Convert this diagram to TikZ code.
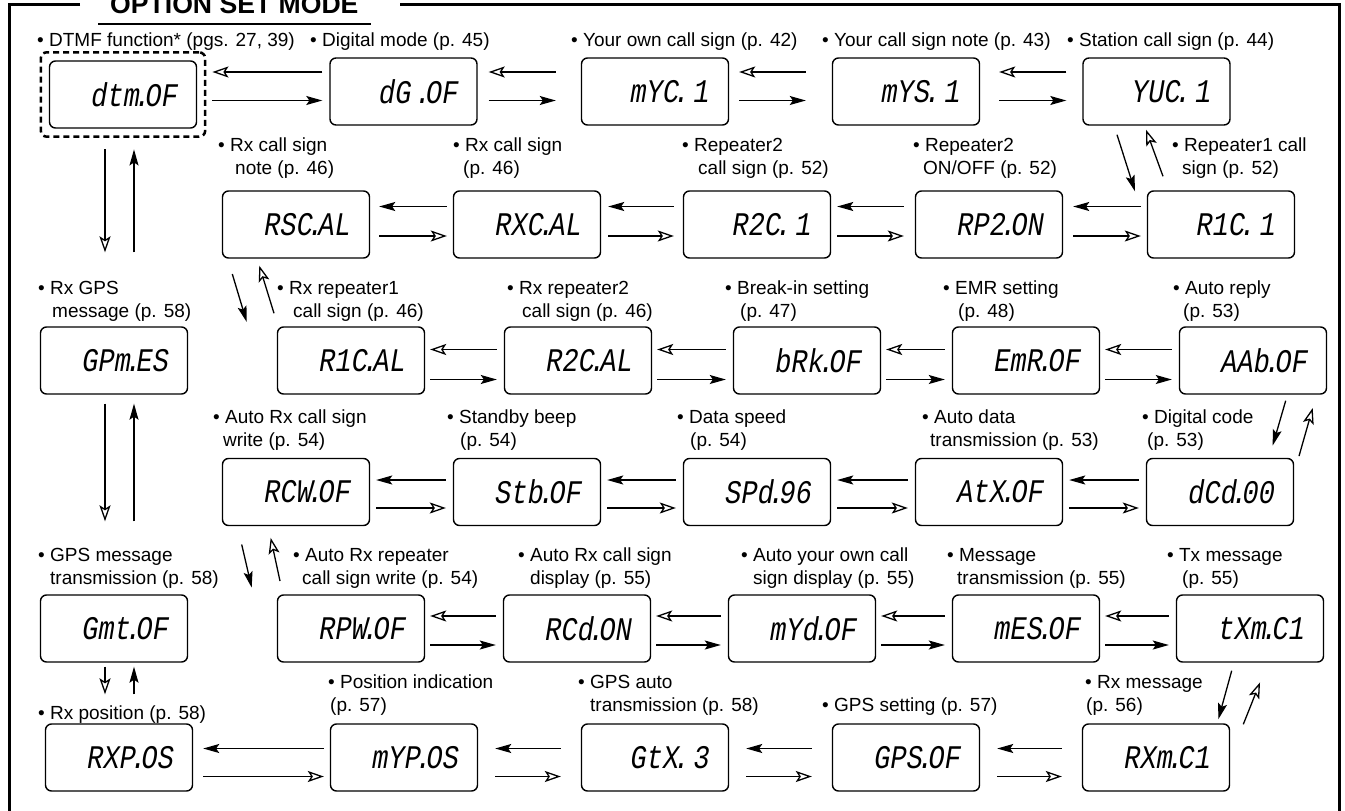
\documentclass[tikz,border=0pt]{standalone}
\usepackage{fontspec}
\usepackage{graphicx}
\setmainfont{Liberation Sans}
\newfontfamily\lcdfont[FakeSlant=0.2]{Liberation Mono}
\usetikzlibrary{arrows.meta, calc, fit}
\newcommand{\disp}[2]{\scalebox{0.82}[1]{#1\kern-.2em.\kern-.2em\relax#2}}

\begin{document}
\begin{tikzpicture}[x=1pt, y=-1pt,
  lcd/.style={draw, line width=1.4pt, rounded corners=6pt, minimum width=147pt, minimum height=67pt, text width=107pt, inner xsep=20pt, align=right, font=\lcdfont\fontsize{33}{33}\selectfont},
  note/.style={anchor=base west, align=left, inner sep=0pt, font=\fontsize{19}{23}\selectfont},
  fwd/.style={-{Stealth[length=16pt, width=9pt, inset=3pt]}, line width=1.3pt},
  bwd/.style={-{Stealth[open, length=16pt, width=11pt, inset=3.5pt]}, line width=1.3pt},
  frame/.style={line width=3pt}]
\useasboundingbox (0,0) rectangle (1345,811);
% frame and title
\draw[frame] (80,4) -- (9,4) -- (9,811);
\draw[frame] (400,4) -- (1339,4) -- (1339,811);
\node[anchor=base west, inner sep=0pt, font=\bfseries\fontsize{26.6}{30}\selectfont] (title) at (110,13) {OPTION SET MODE};
\draw[line width=2pt] ($(title.base west)+(-12,11)$) -- ($(title.base east)+(12,11)$);
% row 1
\node[lcd] (dtm) at (123,94.5) {\disp{dtm}{OF}};
\node[lcd] (dG) at (403.5,91.5) {\disp{dG }{OF}};
\node[lcd] (mYC) at (655,91.5) {\disp{mYC}{ 1}};
\node[lcd] (mYS) at (906,91.5) {\disp{mYS}{ 1}};
\node[lcd] (YUC) at (1156.5,91.5) {\disp{YUC}{ 1}};
\node[draw, line width=2.5pt, dash pattern=on 6pt off 4pt, rounded corners=6pt, inner sep=8pt, fit=(dtm)] (sel) {};
% row 2
\node[lcd] (RSC) at (296,224.5) {\disp{RSC}{AL}};
\node[lcd] (RXC) at (527,224.5) {\disp{RXC}{AL}};
\node[lcd] (R2C) at (757,224.5) {\disp{R2C}{ 1}};
\node[lcd] (RP2) at (989,224.5) {\disp{RP2}{ON}};
\node[lcd] (R1C) at (1221,224.5) {\disp{R1C}{ 1}};
% row 3
\node[lcd] (GPM) at (114,360.5) {\disp{GPm}{ES}};
\node[lcd] (R1CAL) at (351,360.5) {\disp{R1C}{AL}};
\node[lcd] (R2CAL) at (578,360.5) {\disp{R2C}{AL}};
\node[lcd] (BRK) at (807,360.5) {\disp{bRk}{OF}};
\node[lcd] (EMR) at (1026,360.5) {\disp{EmR}{OF}};
\node[lcd] (AAB) at (1253,360.5) {\disp{AAb}{OF}};
% row 4
\node[lcd] (RCW) at (296,492) {\disp{RCW}{OF}};
\node[lcd] (STB) at (527,492) {\disp{Stb}{OF}};
\node[lcd] (SPD) at (757,492) {\disp{SPd}{96}};
\node[lcd] (ATX) at (989,492) {\disp{AtX}{OF}};
\node[lcd] (DCD) at (1220,492) {\disp{dCd}{00}};
% row 5
\node[lcd] (GMT) at (114,628.5) {\disp{Gmt}{OF}};
\node[lcd] (RPW) at (351,628.5) {\disp{RPW}{OF}};
\node[lcd] (RCD) at (577,628.5) {\disp{RCd}{ON}};
\node[lcd] (MYD) at (802,628.5) {\disp{mYd}{OF}};
\node[lcd] (MES) at (1026,628.5) {\disp{mES}{OF}};
\node[lcd] (TXM) at (1250,628.5) {\disp{tXm}{C1}};
% row 6
\node[lcd] (RXP) at (119,757.5) {\disp{RXP}{OS}};
\node[lcd] (MYP) at (404,757.5) {\disp{mYP}{OS}};
\node[lcd] (GTX) at (655,757.5) {\disp{GtX}{ 3}};
\node[lcd] (GPS) at (906,757.5) {\disp{GPS}{OF}};
\node[lcd] (RXM) at (1156,757.5) {\disp{RXm}{C1}};
% labels (two-line labels sit on their last baseline)
\node[note] (n-dtm) at (37,46.5) {• DTMF function* (pgs. 27, 39)};
\node[note] (n-dG) at (310,46.5) {• Digital mode (p. 45)};
\node[note] (n-mYC) at (571,46.5) {• Your own call sign (p. 42)};
\node[note] (n-mYS) at (822,46.5) {• Your call sign note (p. 43)};
\node[note] (n-YUC) at (1067,46.5) {• Station call sign (p. 44)};
\node[note] (n-RSC) at (218,174.5) {• Rx call sign\\\hspace*{17pt}note (p. 46)};
\node[note] (n-RXC) at (453,174.5) {• Rx call sign\\\hspace*{10pt}(p. 46)};
\node[note] (n-R2C) at (682,174.5) {• Repeater2\\\hspace*{16pt}call sign (p. 52)};
\node[note] (n-RP2) at (913,174.5) {• Repeater2\\\hspace*{10pt}ON/OFF (p. 52)};
\node[note] (n-R1C) at (1172,174.5) {• Repeater1 call\\\hspace*{10pt}sign (p. 52)};
\node[note] (n-GPM) at (38,317) {• Rx GPS\\\hspace*{14pt}message (p. 58)};
\node[note] (n-R1CAL) at (277,317) {• Rx repeater1\\\hspace*{16pt}call sign (p. 46)};
\node[note] (n-R2CAL) at (507,317) {• Rx repeater2\\\hspace*{15pt}call sign (p. 46)};
\node[note] (n-BRK) at (725,317) {• Break-in setting\\\hspace*{15pt}(p. 47)};
\node[note] (n-EMR) at (943,317) {• EMR setting\\\hspace*{15pt}(p. 48)};
\node[note] (n-AAB) at (1173,317) {• Auto reply\\\hspace*{10pt}(p. 53)};
\node[note] (n-RCW) at (213,446) {• Auto Rx call sign\\\hspace*{10pt}write (p. 54)};
\node[note] (n-STB) at (447,446) {• Standby beep\\\hspace*{13pt}(p. 54)};
\node[note] (n-SPD) at (677,446) {• Data speed\\\hspace*{13pt}(p. 54)};
\node[note] (n-ATX) at (922,446) {• Auto data\\\hspace*{8pt}transmission (p. 53)};
\node[note] (n-DCD) at (1142,446) {• Digital code\\\hspace*{5pt}(p. 53)};
\node[note] (n-GMT) at (38,584.5) {• GPS message\\\hspace*{12pt}transmission (p. 58)};
\node[note] (n-RPW) at (293,584.5) {• Auto Rx repeater\\\hspace*{9pt}call sign write (p. 54)};
\node[note] (n-RCD) at (518,584.5) {• Auto Rx call sign\\\hspace*{12pt}display (p. 55)};
\node[note] (n-MYD) at (741,584.5) {• Auto your own call\\\hspace*{12pt}sign display (p. 55)};
\node[note] (n-MES) at (947,584.5) {• Message\\\hspace*{10pt}transmission (p. 55)};
\node[note] (n-TXM) at (1167,584.5) {• Tx message\\\hspace*{15pt}(p. 55)};
\node[note] (n-RXP) at (38,719) {• Rx position (p. 58)};
\node[note] (n-MYP) at (328,711) {• Position indication\\\hspace*{2pt}(p. 57)};
\node[note] (n-GTX) at (578,711) {• GPS auto\\\hspace*{12pt}transmission (p. 58)};
\node[note] (n-GPS) at (822,711) {• GPS setting (p. 57)};
\node[note] (n-RXM) at (1085,711) {• Rx message\\\hspace*{1pt}(p. 56)};
% row 1 arrows
\draw[bwd, shorten <=7pt, shorten >=6pt] ($(dG.west)+(0,-19.5)$) -- ($(sel.east |- dG.west)+(0,-19.5)$);
\draw[fwd, shorten <=6pt, shorten >=7pt] ($(sel.east |- dG.west)+(0,9)$) -- ($(dG.west)+(0,9)$);
\foreach \ra/\rb/\sa/\sb in {dG/mYC/11/25, mYC/mYS/10/26, mYS/YUC/19/16} {
  \draw[bwd, shorten <=\sb pt, shorten >=\sa pt] ([yshift=19.5pt]\rb.west) -- ([yshift=19.5pt]\ra.east);
  \draw[fwd, shorten <=\sa pt, shorten >=\sb pt] ([yshift=-9pt]\ra.east) -- ([yshift=-9pt]\rb.west);
}
% row 2 arrows
\foreach \ra/\rb/\sa/\sb in {RSC/RXC/9/6, RXC/R2C/7/9, R2C/RP2/6/11, RP2/R1C/10/6} {
  \draw[fwd, shorten <=\sb pt, shorten >=\sa pt] ([yshift=18pt]\rb.west) -- ([yshift=18pt]\ra.east);
  \draw[bwd, shorten <=\sa pt, shorten >=\sb pt] ([yshift=-11.5pt]\ra.east) -- ([yshift=-11.5pt]\rb.west);
}
% row 3 arrows
\foreach \ra/\rb in {R1CAL/R2CAL, R2CAL/BRK, BRK/EMR, EMR/AAB} {
  \draw[bwd, shorten <=7pt, shorten >=5pt] ([yshift=11pt]\rb.west) -- ([yshift=11pt]\ra.east);
  \draw[fwd, shorten <=5pt, shorten >=7pt] ([yshift=-19pt]\ra.east) -- ([yshift=-19pt]\rb.west);
}
% row 4 arrows
\foreach \ra/\rb in {RCW/STB, STB/SPD, SPD/ATX, ATX/DCD} {
  \draw[fwd, shorten <=7pt, shorten >=6pt] ([yshift=12pt]\rb.west) -- ([yshift=12pt]\ra.east);
  \draw[bwd, shorten <=6pt, shorten >=7pt] ([yshift=-16pt]\ra.east) -- ([yshift=-16pt]\rb.west);
}
% row 5 arrows
\foreach \ra/\rb in {RPW/RCD, RCD/MYD, MYD/MES, MES/TXM} {
  \draw[bwd, shorten <=7pt, shorten >=5pt] ([yshift=12.5pt]\rb.west) -- ([yshift=12.5pt]\ra.east);
  \draw[fwd, shorten <=5pt, shorten >=7pt] ([yshift=-16.5pt]\ra.east) -- ([yshift=-16.5pt]\rb.west);
}
% row 6 arrows
\foreach \ra/\rb/\sa/\sb in {RXP/MYP/10/6, MYP/GTX/17/20, GTX/GPS/17/20, GPS/RXM/17/20} {
  \draw[fwd, shorten <=\sb pt, shorten >=\sa pt] ([yshift=9pt]\rb.west) -- ([yshift=9pt]\ra.east);
  \draw[bwd, shorten <=\sa pt, shorten >=\sb pt] ([yshift=-19pt]\ra.east) -- ([yshift=-19pt]\rb.west);
}
% links between rows
\draw[fwd] ($(YUC.south)+(-39.5,9)$) -- ($(R1C.north)+(-86,1)$);
\draw[bwd] ($(R1C.north)+(-58,-14)$) -- ($(YUC.south)+(-10.5,4)$);
\draw[fwd] ($(RSC.south)+(-63.7,15.3)$) -- ($(R1CAL.north)+(-104.3,-4.3)$);
\draw[bwd] ($(R1CAL.north)+(-77,-13)$) -- ($(RSC.south)+(-36.7,7)$);
\draw[fwd] ($(AAB.south)+(32.7,6)$) -- ($(DCD.north)+(52.7,-12.3)$);
\draw[bwd] ($(DCD.north)+(79,-1.7)$) -- ($(AAB.south)+(59.7,13.3)$);
\draw[fwd] ($(RCW.south)+(-54.3,18.3)$) -- ($(RPW.north)+(-99.3,-6.7)$);
\draw[bwd] ($(RPW.north)+(-71,-13.3)$) -- ($(RCW.south)+(-25.3,11.7)$);
\draw[fwd] ($(TXM.south)+(-18.3,8)$) -- ($(RXM.north)+(62.3,-4)$);
\draw[bwd] ($(RXM.north)+(87.3,1)$) -- ($(TXM.south)+(10,19.7)$);
% left column
\draw[bwd] ($(sel.south)+(-18,11.5)$) -- ($(GPM.north)+(-9,-74)$);
\draw[fwd] ($(GPM.north)+(20,-74)$) -- ($(sel.south)+(11,11.5)$);
\draw[bwd] ($(GPM.south)+(-9,9)$) -- ($(GMT.north)+(-9,-73)$);
\draw[fwd] ($(GMT.north)+(20,-73)$) -- ($(GPM.south)+(20,9)$);
\draw[bwd] ($(GMT.south)+(-9,4)$) -- ($(RXP.north)+(-14,-29)$);
\draw[fwd] ($(RXP.north)+(15,-29)$) -- ($(GMT.south)+(20,4)$);
\end{tikzpicture}
\end{document}
